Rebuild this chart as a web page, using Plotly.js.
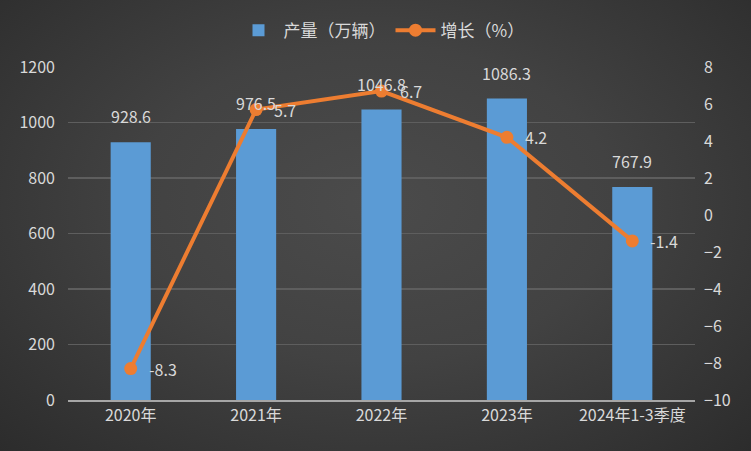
<!DOCTYPE html>
<html>
<head>
<meta charset="utf-8">
<script src="https://cdn.plot.ly/plotly-3.0.1.min.js"></script>
<style>
html,body{margin:0;padding:0;}
#bg{width:751px;height:451px;background:radial-gradient(ellipse at 50% 45%, #4b4b4b 0%, #424242 45%, #2c2c2c 100%);}
#chart{width:751px;height:451px;}
</style>
</head>
<body>
<div id="bg"><div id="chart"></div></div>
<script>
var categories = ["2020年", "2021年", "2022年", "2023年", "2024年1-3季度"];
var output = [928.6, 976.5, 1046.8, 1086.3, 767.9];
var growth = [-8.3, 5.7, 6.7, 4.2, -1.4];
var outputName = "产量（万辆）";
var growthName = "增长（%）";

var FONT = '"Noto Sans CJK SC", "Noto Sans", sans-serif';
var TXT = '#d9d9d9';
var FS = 16;

var bars = {
  type: 'bar', name: outputName, x: categories, y: output,
  marker: {color: '#5b9bd5'}, width: 0.32, yaxis: 'y', hoverinfo: 'skip'
};
var line = {
  type: 'scatter', mode: 'lines+markers', name: growthName,
  x: categories, y: growth, yaxis: 'y2',
  line: {color: '#ed7d31', width: 4},
  marker: {color: '#ed7d31', size: 13},
  cliponaxis: false
};
var annotations = categories.map(function(c, i){
  return {x: c, y: output[i], xref: 'x', yref: 'y', text: String(output[i]),
    showarrow: false, yanchor: 'bottom', yshift: 12,
    font: {color: TXT, size: FS, family: FONT}};
});
categories.forEach(function(c, i){
  annotations.push({x: c, y: growth[i], xref: 'x', yref: 'y2', text: String(growth[i]),
    showarrow: false, xanchor: 'left', yanchor: 'middle', xshift: 16,
    font: {color: TXT, size: FS, family: FONT}});
});

var layout = {
  width: 751, height: 451,
  paper_bgcolor: 'rgba(0,0,0,0)', plot_bgcolor: 'rgba(0,0,0,0)',
  margin: {l: 68, r: 56, t: 67, b: 51},
  font: {family: FONT, color: TXT, size: FS},
  showlegend: true,
  legend: {orientation: 'h', x: 0.5, xanchor: 'center', y: 0.932, yanchor: 'middle', yref: 'container',
    font: {size: 17, color: TXT}, bgcolor: 'rgba(0,0,0,0)', itemwidth: 40},
  xaxis: {type: 'category', showgrid: false, showline: true, linecolor: '#a6a6a6', linewidth: 1.5,
    ticks: '', tickfont: {size: FS, color: TXT}, zeroline: false},
  yaxis: {range: [0, 1200], dtick: 200, showgrid: true, gridcolor: '#5e5e5e', gridwidth: 1.5,
    zeroline: false, ticks: '', tickfont: {size: FS, color: TXT}, showline: false, ticklabelstandoff: 12},
  yaxis2: {range: [-10, 8], dtick: 2, overlaying: 'y', side: 'right', showgrid: false,
    zeroline: false, ticks: '', tickfont: {size: FS, color: TXT}, showline: false, ticklabelstandoff: 8},
  annotations: annotations
};
Plotly.newPlot('chart', [bars, line], layout, {displayModeBar: false, staticPlot: true});
</script>
</body>
</html>
